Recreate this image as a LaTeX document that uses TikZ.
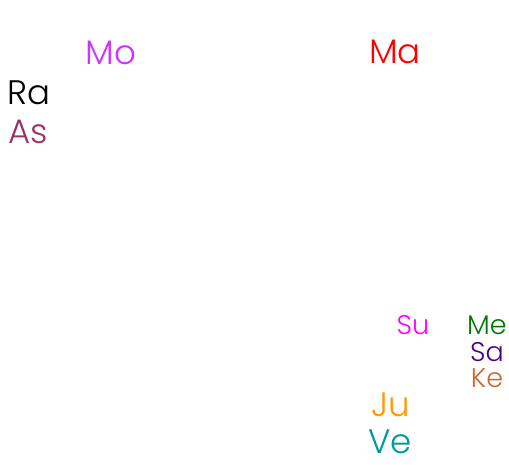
\documentclass[tikz,border=0pt]{standalone}
\usepackage{fontspec}
\setmainfont{Poppins Light}
\usepackage{tikz}

\definecolor{moon}{HTML}{CC33FF}
\definecolor{asc}{HTML}{993366}
\definecolor{sun}{HTML}{FF00FF}
\definecolor{saturn}{HTML}{4B0082}
\definecolor{ketu}{HTML}{CC6633}
\definecolor{venus}{HTML}{009999}
\definecolor{mercury}{HTML}{007700}
\definecolor{jupiter}{HTML}{FF9900}

\begin{document}
\begin{tikzpicture}[x=1pt,y=-1pt]
\tikzstyle{every node}+=[inner sep=0pt]
\tikzstyle{big}=[font=\fontsize{34}{34}\selectfont]
\tikzstyle{small}=[font=\fontsize{27}{27}\selectfont]
\useasboundingbox (0,0) rectangle (509,464);
\node [big, moon] (mo) at (111,53) {Mo};
\node [big, red] (ma) at (395,52) {Ma};
\node [big, black] (ra) at (28.5,93) {Ra};
\node [big, asc] (as) at (28.5,132) {As};
\node [small, sun] (su) at (413,325) {Su};
\node [small, mercury] (me) at (487,325) {Me};
\node [small, saturn] (sa) at (487,352) {Sa};
\node [small, ketu] (ke) at (487,378) {Ke};
\node [big, jupiter] (ju) at (390.5,405) {Ju};
\node [big, venus] (ve) at (390,442) {Ve};
\end{tikzpicture}
\end{document}
